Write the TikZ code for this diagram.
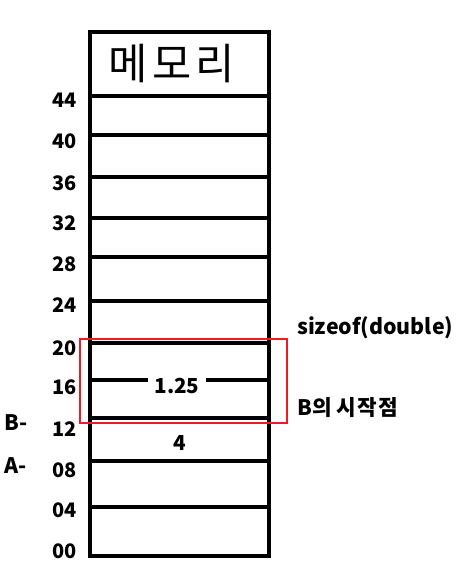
\documentclass[tikz,border=0pt]{standalone}
\usepackage{fontspec}
\setmainfont{Noto Sans CJK KR}
\usepackage{tikz}
\usetikzlibrary{positioning, backgrounds}
\definecolor{boxred}{RGB}{237,28,36}
\tikzstyle{addr} = [anchor=east, inner sep=0pt, font=\bfseries\fontsize{15}{15}\selectfont]
\tikzstyle{note} = [anchor=west, inner sep=0pt, font=\bfseries\fontsize{16}{16}\selectfont]
\tikzstyle{value} = [inner sep=0pt, font=\bfseries\fontsize{15.5}{15.5}\selectfont]
\tikzstyle{cellline} = [line width=3pt]
\tikzstyle{redbox} = [draw=boxred, line width=1.5pt]
\begin{document}
\begin{tikzpicture}[x=0.75pt, y=-0.75pt, background rectangle/.style={fill=white}, show background rectangle, inner frame sep=0pt]

    \useasboundingbox (0, 0) rectangle (462, 582);

    % memory column
    \draw [cellline] (90, 32) rectangle (269, 556);
    \node (title) at (172, 64) {\fontsize{32}{32}\selectfont\addfontfeatures{LetterSpace=10}메모리};

    \foreach \n/\ly/\ty in {44/96/100, 40/135/141, 36/177/183, 32/218/223, 28/257/264, 24/301/305,
                            20/343/348, 16/380/387, 12/418/429, 08/461/470, 04/507/510} {
        \draw [cellline] (90, \ly) -- (269, \ly);
        \node (a\n) [addr] at (77, \ty) {\n};
    }
    \node (a00) [addr] at (77, 551) {00};

    % values
    \node (val) [value, fill=white, minimum width=44pt, minimum height=12pt] at (177, 386) {1.25};
    \node (four) [value] at (180, 443) {4};

    % double B
    \draw [redbox] (80, 339) rectangle (287, 423);
    \node (size) [note] at (297, 328) {sizeof(double)};
    \node (start) [note] at (297, 408) {B의 \addfontfeatures{LetterSpace=6}시작점};

    \node (pb) [note] at (4, 423) {B-};
    \node (pa) [note] at (4, 466) {A-};

\end{tikzpicture}
\end{document}
